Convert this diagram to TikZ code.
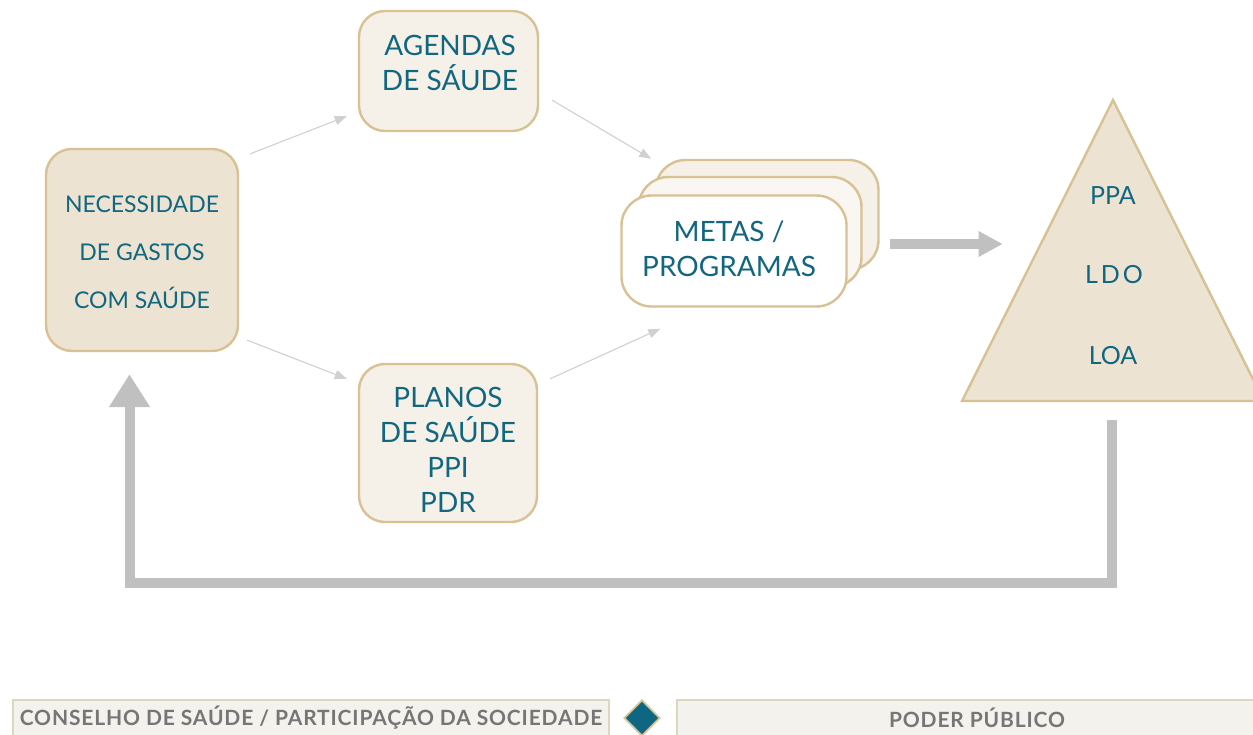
\documentclass[tikz,border=0pt]{standalone}
\usepackage{fontspec}
\setmainfont{Lato}
\usetikzlibrary{calc,arrows.meta,shapes.geometric}
\definecolor{tealtxt}{RGB}{17,102,128}
\definecolor{tanline}{RGB}{216,193,147}
\definecolor{fillA}{RGB}{236,227,211}
\definecolor{fillB}{RGB}{245,240,232}
\definecolor{fillC}{RGB}{250,247,242}
\definecolor{arrowgray}{RGB}{192,192,192}
\definecolor{thingray}{RGB}{208,208,208}
\definecolor{legfill}{RGB}{244,242,236}
\definecolor{legline}{RGB}{222,214,190}
\definecolor{legtext}{RGB}{118,118,118}
\definecolor{diamfill}{RGB}{14,102,130}
\tikzset{
  box/.style={draw=tanline, line width=2.4pt, inner sep=0pt, rounded corners=26pt},
  txt/.style={text=tealtxt, align=center, inner sep=0pt},
  bigtxt/.style={txt, font=\fontsize{28}{35}\selectfont},
  thinarrow/.style={draw=thingray, line width=1.1pt, -{Triangle[length=12pt,width=9pt]}},
  bigarrow/.style={draw=arrowgray, line width=10pt, line join=miter},
  legbox/.style={draw=legline, fill=legfill, line width=1.6pt, inner sep=0pt, text=legtext,
     font=\fontsize{21}{24}\selectfont\bfseries\addfontfeature{LetterSpace=4}},
}
\begin{document}
\begin{tikzpicture}[x=1pt,y=-1pt]
\useasboundingbox (0,0) rectangle (1253,734);

% main boxes
\node[box, fill=fillA, minimum width=192pt, minimum height=202pt] (nec) at (142,250) {};
\node[txt, font=\fontsize{23}{48}\selectfont] (necT) at (142,252) {NECESSIDADE\\DE GASTOS\\COM SAÚDE};

\node[box, fill=fillB, minimum width=179pt, minimum height=120pt] (agendas) at (448.5,71) {};
\node[bigtxt] (agendasT) at (450,63) {AGENDAS\\DE SÁUDE};

\node[box, fill=fillB, minimum width=178pt, minimum height=158pt] (planos) at (448,443) {};
\node[bigtxt] (planosT) at (448,450) {PLANOS\\DE SAÚDE\\PPI\\PDR};

% stacked metas boxes
\node[box, fill=fillB, rounded corners=30pt, minimum width=223pt, minimum height=110pt] (metasBack) at (767,215) {};
\node[box, fill=fillC, rounded corners=30pt, minimum width=223pt, minimum height=110pt] (metasMid) at (750,232) {};
\node[box, fill=white, rounded corners=30pt, minimum width=225pt, minimum height=111pt] (metas) at (734,251) {};
\node[bigtxt] (metasT) at (729,249) {METAS /\\PROGRAMAS};

% triangle
\coordinate (triTop) at (1113,100);
\coordinate (triL) at (962,401);
\coordinate (triR) at (1264,401);
\draw[draw=tanline, fill=fillA, line width=2.4pt, line join=miter] (triTop) -- (triL) -- (triR) -- cycle;
\node[txt, font=\fontsize{25}{30}\selectfont] (ppa) at (1113,196) {PPA};
\node[txt, font=\fontsize{25}{30}\selectfont\addfontfeature{LetterSpace=12}] (ldo) at (1114,275) {LDO};
\node[txt, font=\fontsize{25}{30}\selectfont] (loa) at (1113,356) {LOA};

% thin arrows
\draw[thinarrow] ($(nec.north east)+(11,6)$) -- ($(agendas.south west)+(-11,-16)$);
\draw[thinarrow] ($(nec.south east)+(8,-12)$) -- ($(planos.north west)+(-11,16)$);
\draw[thinarrow] ($(agendas.south east)+(13,-32)$) -- ($(metasBack.north west)+(-3,0)$);
\draw[thinarrow] ($(planos.north east)+(12,16)$) -- ($(metas.south west)+(40,21)$);

% big arrow metas -> triangle
\coordinate (bigA) at ($(metasBack.east)+(10,29)$);
\coordinate (bigB) at ($(bigA)+(113,0)$);
\draw[bigarrow, -{Triangle[length=24pt,width=24pt]}] (bigA) -- (bigB);

% feedback arrow
\coordinate (fbStart) at (1111.5,420);
\coordinate (fbCorner) at ($(nec.south)+(-12.5,231)$);
\coordinate (fbEnd) at ($(nec.south)+(-12.5,22)$);
\draw[bigarrow, -{Triangle[length=33pt,width=39pt]}] (fbStart) |- (fbCorner) -- (fbEnd);

% legend
\node[legbox, minimum width=596pt, minimum height=36pt] (leg1) at (311,718) {CONSELHO DE SAÚDE / PARTICIPAÇÃO DA SOCIEDADE};
\node[diamond, draw=tanline, fill=diamfill, line width=1.8pt, aspect=1, minimum size=36pt, inner sep=0pt] (diam) at (642,718) {};
\node[legbox, minimum width=600pt, minimum height=36pt] (leg2) at (977,718) {PODER PÚBLICO};
\end{tikzpicture}
\end{document}
